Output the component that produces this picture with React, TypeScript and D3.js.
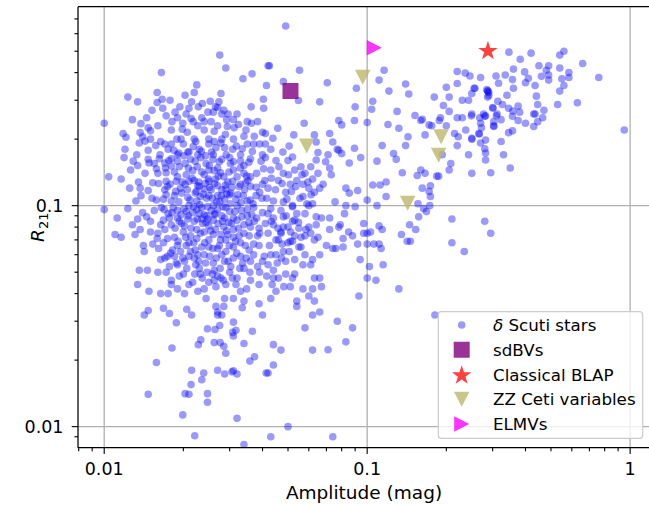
import React from 'react';
import * as d3 from 'd3';

// Amplitude (mag), R21 pairs for the delta Scuti sample
const deltaScuti: [number, number][] = [
  [0.01,0.236],[0.0275,0.48],[0.029,0.42],[0.0165,0.40],[0.0337,0.375],[0.0365,0.395],[0.042,0.43],[0.0123,0.31],[0.0134,0.295],[0.0159,0.325],[0.0166,0.303],[0.0159,0.293],[0.0167,0.276],[0.0178,0.30],[0.0194,0.28],[0.0203,0.316],[0.0225,0.352],[0.022,0.325],[0.0215,0.295],[0.021,0.276],[0.0236,0.29],[0.0228,0.28],[0.0253,0.297],[0.0278,0.322],[0.0273,0.295],[0.027,0.278],[0.0285,0.27],[0.026,0.265],[0.028,0.26],[0.0292,0.245],[0.019,0.25],[0.0214,0.248],[0.0199,0.236],[0.0198,0.222],[0.0207,0.215],[0.0227,0.23],[0.024,0.22],[0.0262,0.217],[0.0289,0.21],[0.0294,0.228],[0.0324,0.233],[0.0312,0.225],[0.0362,0.28],[0.0363,0.236],[0.0383,0.24],[0.0346,0.22],[0.0372,0.206],[0.0403,0.303],[0.0414,0.35],[0.034,0.206],[0.039,0.19],[0.041,0.19],[0.0118,0.212],[0.0121,0.204],[0.0137,0.214],[0.014,0.205],[0.0147,0.225],[0.015,0.218],[0.0143,0.196],[0.0136,0.192],[0.0157,0.187],[0.0164,0.195],[0.012,0.18],[0.0133,0.17],[0.0147,0.178],[0.0175,0.18],[0.018,0.19],[0.0189,0.2],[0.0196,0.2],[0.0192,0.173],[0.0208,0.175],[0.0223,0.195],[0.025,0.19],[0.0262,0.195],[0.0256,0.175],[0.0278,0.192],[0.0287,0.183],[0.0308,0.18],[0.0335,0.181],[0.035,0.19],[0.0366,0.176],[0.04,0.17],[0.0227,0.17],
  [0.049,0.65],[0.0425,0.43],[0.0553,0.41],[0.0705,0.36],[0.048,0.364],[0.0548,0.299],[0.066,0.295],[0.0404,0.276],[0.041,0.212],[0.0457,0.224],[0.0438,0.202],[0.0526,0.209],[0.0576,0.236],[0.063,0.209],[0.072,0.212],[0.078,0.243],[0.08,0.232],[0.09,0.28],[0.0895,0.243],[0.091,0.34],[0.078,0.178],[0.074,0.194],[0.077,0.18],[0.071,0.17],[0.065,0.174],[0.0695,0.158],[0.064,0.161],[0.061,0.15],[0.072,0.148],[0.073,0.138],[0.0855,0.156],[0.0895,0.182],[0.0945,0.165],[0.08,0.172],[0.052,0.166],[0.0478,0.175],[0.0505,0.186],[0.064,0.194],[0.083,0.12],[0.092,0.117],[0.0855,0.114],[0.0755,0.104],[0.066,0.12],[0.06,0.12],[0.057,0.11],
  [0.116,0.41],[0.111,0.37],[0.105,0.297],[0.104,0.273],[0.1,0.238],[0.121,0.33],[0.14,0.355],[0.144,0.32],[0.13,0.267],[0.12,0.233],[0.132,0.224],[0.152,0.256],[0.16,0.243],[0.143,0.205],[0.14,0.187],[0.126,0.172],[0.114,0.187],[0.109,0.159],[0.129,0.162],[0.136,0.141],[0.155,0.137],[0.166,0.14],[0.16,0.145],[0.174,0.123],[0.162,0.12],[0.172,0.116],[0.184,0.136],[0.112,0.124],[0.105,0.124],[0.118,0.128],[0.1,0.106],[0.109,0.1],[0.118,0.11],[0.156,0.102],[0.173,0.1],[0.168,0.094],[0.174,0.11],[0.176,0.23],[0.188,0.243],[0.19,0.25],[0.205,0.267],[0.195,0.284],[0.18,0.31],[0.2,0.343],[0.22,0.405],[0.22,0.357],[0.236,0.398],[0.246,0.386],[0.27,0.38],[0.309,0.386],[0.205,0.31],[0.23,0.30],[0.243,0.30],[0.257,0.34],[0.287,0.33],[0.29,0.315],[0.287,0.31],[0.22,0.25],[0.23,0.25],[0.249,0.255],[0.268,0.25],[0.282,0.255],[0.301,0.276],[0.31,0.255],[0.303,0.228],[0.237,0.22],[0.266,0.212],[0.282,0.198],[0.215,0.212],[0.222,0.205],[0.25,0.202],[0.243,0.17],[0.22,0.187],[0.208,0.155],[0.295,0.141],[0.25,0.14],[0.205,0.145],[0.172,0.232],[0.166,0.209],[0.162,0.246],[0.2,0.23],
  [0.346,0.495],[0.382,0.46],[0.42,0.49],[0.54,0.48],[0.56,0.50],[0.66,0.44],[0.76,0.38],[0.95,0.22],[0.54,0.42],[0.49,0.43],[0.45,0.43],[0.48,0.41],[0.585,0.40],[0.585,0.38],[0.55,0.375],[0.49,0.39],[0.49,0.37],[0.46,0.385],[0.56,0.35],[0.54,0.33],[0.63,0.292],[0.53,0.287],[0.47,0.27],[0.465,0.25],[0.435,0.26],[0.445,0.287],[0.44,0.313],[0.435,0.35],[0.41,0.377],[0.40,0.36],[0.397,0.403],[0.36,0.415],[0.335,0.39],[0.357,0.372],[0.316,0.358],[0.36,0.34],[0.34,0.316],[0.288,0.33],[0.29,0.325],[0.285,0.335],[0.255,0.34],[0.25,0.322],[0.314,0.297],[0.327,0.287],[0.3,0.278],[0.345,0.276],[0.375,0.282],[0.358,0.268],[0.38,0.265],[0.357,0.254],[0.375,0.243],[0.4,0.236],[0.43,0.228],[0.445,0.24],[0.43,0.26],[0.312,0.26],[0.323,0.245],[0.277,0.26],[0.28,0.254],[0.303,0.24],[0.303,0.23],[0.25,0.26],[0.27,0.236],[0.272,0.225],[0.267,0.211],[0.25,0.2],[0.27,0.192],[0.28,0.181],[0.282,0.173],[0.357,0.218],[0.345,0.214],[0.323,0.195],[0.33,0.17],
  [0.193,0.17],[0.282,0.161],[0.187,0.136],[0.35,0.148],[0.21,0.087],[0.28,0.085],[0.295,0.075],[0.21,0.068],[0.234,0.062],
  [0.164,0.097],[0.157,0.089],[0.145,0.082],[0.153,0.078],[0.135,0.074],[0.142,0.069],[0.146,0.069],[0.132,0.042],[0.181,0.032],[0.111,0.081],[0.114,0.078],[0.1,0.075],[0.103,0.076],[0.097,0.083],[0.097,0.075],[0.1,0.067],[0.106,0.067],[0.111,0.067],[0.113,0.064],[0.094,0.057],[0.102,0.053],[0.115,0.054],[0.1,0.047],[0.108,0.046],[0.093,0.039],
  [0.083,0.1],[0.09,0.099],[0.072,0.088],[0.082,0.092],[0.078,0.08],[0.079,0.082],[0.085,0.076],[0.088,0.073],[0.081,0.071],[0.081,0.065],[0.074,0.064],[0.076,0.064],[0.092,0.067],[0.065,0.072],[0.064,0.082],[0.064,0.089],[0.067,0.088],[0.061,0.075],[0.058,0.073],[0.056,0.072],[0.055,0.079],[0.053,0.073],[0.051,0.069],[0.052,0.069],[0.056,0.065],[0.054,0.092],[0.058,0.092],[0.053,0.086],[0.048,0.089],[0.05,0.08],[0.047,0.076],[0.044,0.082],[0.045,0.07],[0.047,0.075],[0.042,0.092],[0.048,0.104],[0.052,0.099],[0.059,0.102],[0.062,0.102],[0.048,0.062],[0.049,0.056],[0.053,0.057],[0.057,0.054],[0.062,0.057],[0.061,0.054],[0.043,0.06],[0.044,0.051],[0.049,0.049],[0.053,0.049],[0.052,0.047],[0.046,0.047],[0.044,0.047],[0.063,0.047],[0.066,0.047],[0.062,0.042],[0.057,0.042],[0.067,0.043],[0.051,0.043],[0.045,0.041],[0.043,0.038],[0.06,0.039],[0.063,0.037],[0.054,0.037],[0.054,0.035],[0.066,0.033],[0.062,0.032],[0.077,0.03],[0.088,0.028],[0.058,0.028],
  [0.044,0.0235],[0.047,0.0222],[0.062,0.0222],[0.071,0.0223],[0.083,0.0242],[0.044,0.019],[0.042,0.0175],[0.05,0.01],[0.043,0.009],[0.074,0.009],
  [0.0147,0.0335],[0.0142,0.032],[0.0168,0.0343],[0.0177,0.0325],[0.0188,0.0295],[0.0206,0.034],[0.0215,0.032],[0.0266,0.035],[0.0285,0.035],[0.027,0.033],[0.027,0.032],[0.028,0.032],[0.0335,0.0345],[0.04,0.032],[0.031,0.0297],[0.0275,0.0287],[0.0264,0.0275],[0.0247,0.0277],[0.0308,0.0267],[0.0317,0.0273],[0.031,0.0257],[0.0366,0.027],[0.0233,0.0247],[0.0228,0.0235],[0.0262,0.024],[0.0276,0.024],[0.0285,0.0231],[0.029,0.0215],[0.034,0.0238],[0.0181,0.0227],[0.0158,0.0195],[0.0373,0.0207],[0.0358,0.0198],[0.0215,0.018],[0.0239,0.0175],[0.027,0.018],[0.0287,0.0173],[0.0306,0.0177],[0.031,0.0179],[0.032,0.0173],[0.0413,0.0175],[0.0235,0.0163],[0.0214,0.0155],[0.0147,0.014],[0.0203,0.0141],[0.021,0.014],[0.0247,0.0141],[0.0247,0.0129],[0.0199,0.0113],[0.032,0.0109],[0.0221,0.0091],[0.034,0.0083],
  [0.0129,0.159],[0.0134,0.152],[0.0147,0.162],[0.0148,0.156],[0.0162,0.163],[0.017,0.156],[0.018,0.163],[0.018,0.151],[0.019,0.159],[0.0203,0.155],[0.0213,0.162],[0.0222,0.159],[0.0233,0.165],[0.0244,0.155],[0.0259,0.162],[0.028,0.162],[0.031,0.158],[0.033,0.159],[0.034,0.152],[0.036,0.163],[0.0395,0.159],[0.041,0.165],[0.0158,0.147],[0.0104,0.135],[0.0116,0.132],[0.0143,0.14],[0.0172,0.141],[0.0185,0.142],[0.0217,0.144],[0.0235,0.142],[0.0249,0.132],[0.0262,0.144],[0.0277,0.141],[0.0298,0.142],[0.032,0.135],[0.0348,0.136],[0.036,0.135],[0.0404,0.147],[0.0408,0.13],[0.0153,0.127],[0.0147,0.117],[0.0137,0.12],[0.0161,0.126],[0.0172,0.129],[0.0174,0.122],[0.0188,0.129],[0.0203,0.125],[0.021,0.129],[0.0227,0.123],[0.024,0.119],[0.025,0.129],[0.027,0.123],[0.029,0.119],[0.0308,0.129],[0.0326,0.122],[0.0345,0.127],[0.0378,0.121],[0.04,0.125],[0.0138,0.111],[0.0158,0.106],[0.0168,0.107],[0.0185,0.111],[0.0197,0.114],[0.0208,0.109],[0.0222,0.114],[0.0232,0.11],[0.025,0.111],[0.027,0.111],[0.0287,0.107],[0.0303,0.114],[0.0317,0.107],[0.0338,0.111],[0.0359,0.106],[0.0378,0.111],[0.0398,0.108],
  [0.01,0.096],[0.0112,0.088],[0.0123,0.097],[0.014,0.093],[0.0145,0.089],[0.0134,0.087],[0.0128,0.082],[0.0137,0.078],[0.011,0.074],[0.0116,0.072],[0.0131,0.074],[0.015,0.076],[0.0159,0.071],[0.0153,0.067],[0.0141,0.066],[0.0142,0.062],[0.0164,0.082],[0.0177,0.088],[0.0169,0.096],[0.019,0.095],[0.0196,0.091],[0.0193,0.085],[0.0202,0.081],[0.0208,0.087],[0.0217,0.093],[0.0225,0.096],[0.0235,0.087],[0.0244,0.084],[0.025,0.081],[0.024,0.091],[0.0262,0.091],[0.0255,0.095],[0.027,0.096],[0.0287,0.088],[0.0298,0.084],[0.031,0.088],[0.0333,0.095],[0.035,0.09],[0.034,0.082],[0.0372,0.085],[0.0388,0.079],[0.04,0.093],[0.0278,0.074],[0.0295,0.074],[0.031,0.072],[0.0326,0.073],[0.0356,0.073],[0.0383,0.073],[0.026,0.074],[0.0225,0.071],[0.0213,0.073],[0.019,0.066],[0.0182,0.063],[0.0174,0.059],[0.0185,0.059],[0.0205,0.066],[0.0222,0.063],[0.021,0.059],[0.0227,0.06],[0.025,0.065],[0.0274,0.066],[0.029,0.062],[0.031,0.065],[0.033,0.059],[0.0356,0.063],[0.0388,0.066],[0.0406,0.059],[0.0164,0.057],[0.0177,0.053],[0.0136,0.051],[0.0146,0.051],[0.0172,0.05],[0.0134,0.044],[0.0148,0.041],[0.0164,0.04],[0.018,0.044],[0.0193,0.048],[0.0202,0.056],[0.0223,0.054],[0.0217,0.045],[0.0232,0.049],[0.0246,0.05],[0.0262,0.051],[0.0287,0.056],[0.0303,0.053],[0.0336,0.055],[0.036,0.056],[0.0383,0.053],[0.04,0.056],[0.024,0.042],[0.0227,0.041],[0.0244,0.038],[0.0266,0.043],[0.0287,0.038],[0.031,0.038],[0.0317,0.044],[0.034,0.037],[0.0348,0.042],[0.0388,0.044],[0.0388,0.036],[0.0278,0.047],[0.0262,0.046],[0.0202,0.04],[0.019,0.042],[0.0175,0.04],
  [0.016,0.14],[0.017,0.118],[0.018,0.105],[0.019,0.135],[0.0195,0.12],[0.0205,0.138],[0.021,0.1],[0.022,0.13],[0.0225,0.105],[0.023,0.122],[0.0235,0.098],[0.024,0.138],[0.0245,0.108],[0.025,0.145],[0.0255,0.118],[0.026,0.1],[0.0265,0.132],[0.027,0.148],[0.0275,0.104],[0.028,0.118],[0.0285,0.135],[0.029,0.098],[0.0295,0.128],[0.03,0.112],[0.031,0.145],[0.032,0.1],[0.033,0.125],[0.034,0.14],[0.035,0.105],[0.036,0.122],[0.037,0.098],[0.038,0.14],[0.039,0.115],
  [0.015,0.085],[0.0155,0.095],[0.016,0.075],[0.017,0.078],[0.0175,0.092],[0.018,0.082],[0.0185,0.072],[0.019,0.088],[0.02,0.076],[0.0205,0.094],[0.021,0.068],[0.022,0.085],[0.0225,0.078],[0.023,0.092],[0.0235,0.065],[0.024,0.076],[0.0245,0.09],[0.025,0.07],[0.026,0.086],[0.0265,0.078],[0.027,0.064],[0.028,0.09],[0.0285,0.08],[0.029,0.07],[0.03,0.094],[0.031,0.078],[0.032,0.086],[0.033,0.068],[0.034,0.075],[0.035,0.096],[0.036,0.08],[0.037,0.067],[0.038,0.088],[0.039,0.075],[0.041,0.083],[0.043,0.097],
  [0.016,0.05],[0.017,0.058],[0.018,0.046],[0.019,0.054],[0.0195,0.062],[0.02,0.049],[0.021,0.044],[0.022,0.058],[0.023,0.052],[0.024,0.06],[0.025,0.045],[0.026,0.055],[0.027,0.048],[0.028,0.06],[0.029,0.044],[0.03,0.05],[0.031,0.058],[0.032,0.047],[0.033,0.041],[0.034,0.052],[0.036,0.046],[0.037,0.06],[0.039,0.05],[0.042,0.054],[0.045,0.06],
  [0.015,0.2],[0.016,0.23],[0.017,0.19],[0.018,0.22],[0.019,0.17],[0.02,0.19],[0.021,0.175],[0.022,0.2],[0.023,0.18],[0.024,0.24],[0.025,0.2],[0.026,0.17],[0.027,0.23],[0.028,0.2],[0.03,0.165],[0.031,0.2],[0.032,0.26],[0.033,0.17],[0.035,0.24],[0.037,0.19],[0.04,0.215],[0.043,0.18],
  [0.042,0.12],[0.043,0.145],[0.044,0.105],[0.045,0.16],[0.046,0.13],[0.047,0.095],[0.048,0.14],[0.049,0.115],[0.05,0.16],[0.051,0.125],[0.052,0.1],[0.053,0.145],[0.054,0.13],[0.056,0.15],[0.057,0.125],[0.058,0.14],[0.06,0.1],[0.062,0.132],[0.063,0.115],[0.065,0.14],[0.068,0.125],[0.042,0.075],[0.044,0.088],[0.046,0.07],[0.048,0.08],[0.05,0.068],[0.052,0.085],[0.055,0.065],[0.058,0.06],[0.06,0.08],[0.063,0.07],[0.066,0.06],[0.07,0.066],[0.072,0.078],
  [0.0152,0.108],[0.0165,0.098],[0.0172,0.112],[0.0178,0.125],[0.0183,0.098],[0.0187,0.116],[0.0192,0.104],[0.0198,0.128],[0.0201,0.097],[0.0207,0.118],[0.0212,0.106],[0.0216,0.133],[0.0219,0.099],[0.0224,0.116],[0.0229,0.128],[0.0231,0.101],[0.0238,0.113],[0.0242,0.126],[0.0247,0.099],[0.0252,0.121],[0.0258,0.108],[0.0263,0.126],[0.0268,0.104],[0.0272,0.136],[0.0279,0.111],[0.0283,0.099],[0.0289,0.124],[0.0293,0.113],[0.0301,0.102],[0.0306,0.121],[0.0314,0.094],[0.0322,0.112],[0.0331,0.103],[0.0342,0.118],[0.0352,0.13],[0.0368,0.102],
  [0.0168,0.086],[0.0174,0.071],[0.0181,0.093],[0.0186,0.079],[0.0191,0.069],[0.0197,0.083],[0.0204,0.072],[0.0209,0.09],[0.0214,0.079],[0.0219,0.068],[0.0226,0.087],[0.0232,0.075],[0.0237,0.083],[0.0241,0.068],[0.0248,0.087],[0.0254,0.077],[0.0259,0.064],[0.0264,0.092],[0.0271,0.083],[0.0277,0.07],[0.0282,0.085],[0.0292,0.077],[0.0299,0.066],[0.0305,0.083],[0.0316,0.069],[0.0324,0.079],[0.0334,0.089],[0.0344,0.066],[0.0355,0.084],[0.0364,0.091],
  [0.0161,0.064],[0.0168,0.068],[0.0179,0.061],[0.0188,0.055],[0.0199,0.058],[0.0206,0.052],[0.0213,0.062],[0.0221,0.049],[0.0229,0.056],[0.0236,0.047],[0.0243,0.055],[0.0252,0.059],[0.0258,0.049],[0.0267,0.058],[0.0276,0.052],[0.0284,0.046],[0.0296,0.056],[0.0307,0.047],[0.0319,0.061],[0.0328,0.052],[0.0347,0.058],[0.0358,0.05],
  [0.0155,0.155],[0.0163,0.17],[0.0171,0.148],[0.0176,0.16],[0.0184,0.178],[0.0193,0.15],[0.0201,0.168],[0.0209,0.148],[0.0218,0.185],[0.0226,0.15],[0.0234,0.176],[0.0243,0.168],[0.0251,0.152],[0.0266,0.183],[0.0274,0.158],[0.0291,0.17],[0.0302,0.155],[0.0318,0.186],[0.0329,0.148],[0.0355,0.157],
  [0.0145,0.25],[0.0152,0.27],[0.0172,0.255],[0.0181,0.24],[0.0186,0.265],[0.0205,0.26],[0.0218,0.24],[0.0235,0.25],[0.0248,0.265],[0.0255,0.24],[0.0265,0.28],[0.0296,0.26],[0.031,0.245],[0.0138,0.235],[0.0128,0.245],
  [0.0415,0.108],[0.0432,0.133],[0.0448,0.118],[0.0462,0.15],[0.0475,0.126],[0.0495,0.107],[0.0502,0.138],[0.0515,0.116],[0.0535,0.122],[0.0555,0.108],[0.0565,0.138],[0.0595,0.128],[0.0612,0.112],[0.0432,0.085],[0.0458,0.079],[0.0475,0.067],[0.0492,0.09],[0.0512,0.076],[0.0548,0.084],[0.0585,0.078],[0.0425,0.066],[0.0455,0.055],[0.0472,0.058],[0.0505,0.062],[0.0435,0.044],[0.0482,0.043],[0.0415,0.048],
  [0.0125,0.12],[0.0132,0.105],[0.0126,0.145],[0.0119,0.165],[0.0135,0.128],
];

const sdBVs: [number, number][] = [[0.0511, 0.33]];
const classicalBLAP: [number, number][] = [[0.288, 0.506]];
const zzCeti: [number, number][] = [[0.0962, 0.381], [0.0589, 0.186], [0.191, 0.205], [0.187, 0.169], [0.1426, 0.1025]];
const elmvs: [number, number][] = [[0.1064, 0.519]];

const xMajorTicks = [0.01, 0.1, 1];
const xTickLabels = ['0.01', '0.1', '1'];
const yMajorTicks = [0.01, 0.1];
const yTickLabels = ['0.01', '0.1'];

const FONT = 'DejaVu Sans, sans-serif';

const COLORS = {
  scuti: 'rgba(0,0,255,0.4)',
  sdbv: 'rgba(128,0,128,0.8)',
  blap: 'rgba(255,0,0,0.75)',
  zz: 'rgba(189,183,107,0.8)',
  elmv: 'rgba(255,0,255,0.8)',
};

const squarePath = (s: number) => `M${-s / 2},${-s / 2}H${s / 2}V${s / 2}H${-s / 2}Z`;
const triDownPath = (w: number, h: number) => `M${-w / 2},${-h / 2}L${w / 2},${-h / 2}L0,${h / 2}Z`;
const triRightPath = (w: number, h: number) => `M${-w / 2},${-h / 2}L${w / 2},0L${-w / 2},${h / 2}Z`;
const starPath = d3.symbol().type(d3.symbolStar).size(118)() as string;

type Marker = 'circle' | 'square' | 'star' | 'tri-down' | 'tri-right';

function MarkerShape({ kind, cx, cy }: { kind: Marker; cx: number; cy: number }) {
  switch (kind) {
    case 'circle':
      return <circle cx={cx} cy={cy} r={3.8} fill={COLORS.scuti} />;
    case 'square':
      return <path d={squarePath(16)} transform={`translate(${cx},${cy})`} fill={COLORS.sdbv} />;
    case 'star':
      return <path d={starPath} transform={`translate(${cx},${cy + 1})`} fill={COLORS.blap} />;
    case 'tri-down':
      return <path d={triDownPath(15.5, 15)} transform={`translate(${cx},${cy})`} fill={COLORS.zz} />;
    case 'tri-right':
      return <path d={triRightPath(15, 15.5)} transform={`translate(${cx},${cy})`} fill={COLORS.elmv} />;
  }
}

export default function App() {
  const width = 649;
  const height = 505;
  const left = 78;
  const right = 650;
  const top = 6.7;
  const bottom = 447.7;

  const x = d3.scaleLog().domain([0.00795, 1.19]).range([left, right]);
  const y = d3.scaleLog().domain([0.00803, 0.795]).range([bottom, top]);

  const xTicks = x.ticks().filter((v) => v >= 0.00795 && v <= 1.19);
  const yTicks = y.ticks().filter((v) => v >= 0.00803 && v <= 0.795);
  const isMajor = (v: number) => Math.abs(Math.log10(v) - Math.round(Math.log10(v))) < 1e-6;

  const legendItems: { kind: Marker; label: React.ReactNode }[] = [
    { kind: 'circle', label: <><tspan fontStyle="italic">δ</tspan> Scuti stars</> },
    { kind: 'square', label: 'sdBVs' },
    { kind: 'star', label: 'Classical BLAP' },
    { kind: 'tri-down', label: 'ZZ Ceti variables' },
    { kind: 'tri-right', label: 'ELMVs' },
  ];

  const legend = { x0: 438.3, y0: 311.7, w: 204.4, h: 126.6, rowY: 325, rowStep: 24.75, markerX: 461.7, textX: 493 };

  return (
    <svg
      width={width}
      height={height}
      style={{ position: 'absolute', left: 0, top: 0, background: '#fff' }}
      fontFamily={FONT}
    >
      <defs>
        <clipPath id="plot-area">
          <rect x={left} y={top} width={right - left} height={bottom - top} />
        </clipPath>
      </defs>

      {/* grid at the decades */}
      <g stroke="#b0b0b0" strokeWidth={1.3}>
        {xMajorTicks.map((v) => (
          <line key={`gx${v}`} x1={x(v)} x2={x(v)} y1={top} y2={bottom} />
        ))}
        {yMajorTicks.map((v) => (
          <line key={`gy${v}`} x1={left} x2={right} y1={y(v)} y2={y(v)} />
        ))}
      </g>

      <g clipPath="url(#plot-area)">
        {deltaScuti.map(([a, r], i) => (
          <MarkerShape key={`s${i}`} kind="circle" cx={x(a)} cy={y(r)} />
        ))}
        {sdBVs.map(([a, r], i) => (
          <MarkerShape key={`b${i}`} kind="square" cx={x(a)} cy={y(r)} />
        ))}
        {classicalBLAP.map(([a, r], i) => (
          <MarkerShape key={`p${i}`} kind="star" cx={x(a)} cy={y(r)} />
        ))}
        {zzCeti.map(([a, r], i) => (
          <MarkerShape key={`z${i}`} kind="tri-down" cx={x(a)} cy={y(r)} />
        ))}
        {elmvs.map(([a, r], i) => (
          <MarkerShape key={`e${i}`} kind="tri-right" cx={x(a)} cy={y(r)} />
        ))}
      </g>

      {/* spines (the right one falls outside the drawing) */}
      <g stroke="#000" strokeWidth={1.25} fill="none">
        <line x1={left} x2={left} y1={top} y2={bottom} />
        <line x1={left} x2={right} y1={bottom} y2={bottom} />
        <line x1={left} x2={right} y1={top} y2={top} />
      </g>

      {/* ticks */}
      <g stroke="#000" strokeWidth={1.1}>
        {xTicks.map((v) => (
          <line key={`tx${v}`} x1={x(v)} x2={x(v)} y1={bottom} y2={bottom + (isMajor(v) ? 6.3 : 3.6)} />
        ))}
        {yTicks.map((v) => (
          <line key={`ty${v}`} x1={left} x2={left - (isMajor(v) ? 6.3 : 3.6)} y1={y(v)} y2={y(v)} />
        ))}
      </g>

      <g fontSize={17.5} fill="#000">
        {xMajorTicks.map((v, i) => (
          <text key={`lx${v}`} x={x(v)} y={475} textAnchor="middle">
            {xTickLabels[i]}
          </text>
        ))}
        {yMajorTicks.map((v, i) => (
          <text key={`ly${v}`} x={63.5} y={y(v)} dy="0.36em" textAnchor="end">
            {yTickLabels[i]}
          </text>
        ))}
      </g>

      <text x={(left + right) / 2} y={499} textAnchor="middle" fontSize={18.5}>
        Amplitude (mag)
      </text>

      <text transform={`translate(44,${(top + bottom) / 2}) rotate(-90)`} textAnchor="middle" fontSize={18.5}>
        <tspan fontStyle="italic">R</tspan>
        <tspan fontSize={13} dy={4}>21</tspan>
      </text>

      {/* legend */}
      <g>
        <rect
          x={legend.x0}
          y={legend.y0}
          width={legend.w}
          height={legend.h}
          rx={3}
          fill="rgba(255,255,255,0.8)"
          stroke="#cccccc"
          strokeWidth={1.2}
        />
        {legendItems.map((item, i) => {
          const cy = legend.rowY + i * legend.rowStep;
          return (
            <g key={`lg${i}`}>
              <MarkerShape kind={item.kind} cx={legend.markerX} cy={cy} />
              <text x={legend.textX} y={cy} dy="0.36em" fontSize={16.7}>
                {item.label}
              </text>
            </g>
          );
        })}
      </g>
    </svg>
  );
}
